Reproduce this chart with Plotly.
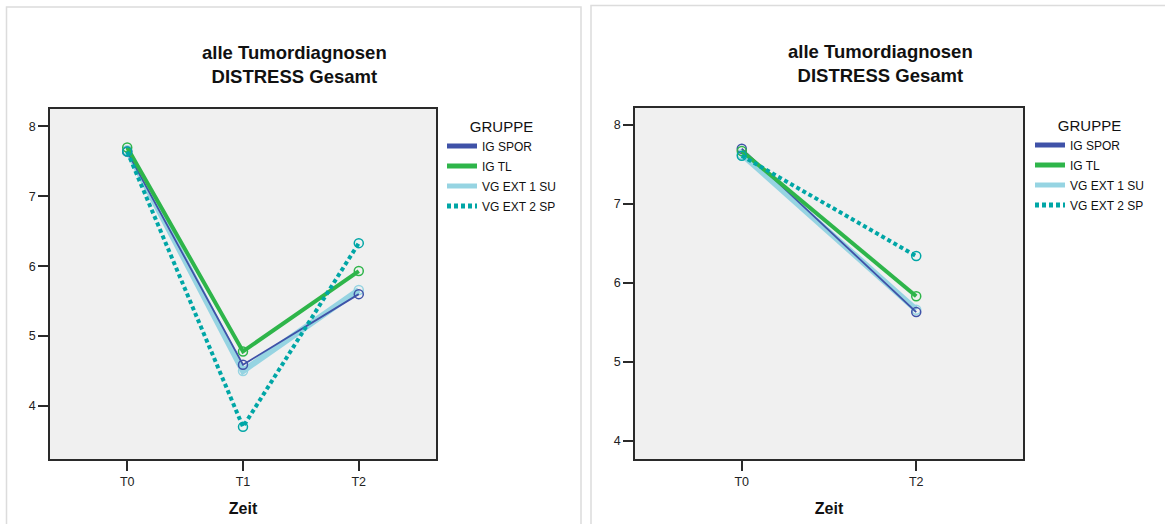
import plotly.graph_objects as go

W, H = 1165, 524

zeit_left = ["T0", "T1", "T2"]
zeit_right = ["T0", "T2"]
groups = ["IG SPOR", "IG TL", "VG EXT 1 SU", "VG EXT 2 SP"]

left_spor = [7.64, 4.59, 5.60]
left_tl = [7.70, 4.78, 5.93]
left_su = [7.66, 4.50, 5.66]
left_sp = [7.64, 3.70, 6.33]

right_spor = [7.70, 5.63]
right_tl = [7.67, 5.83]
right_su = [7.63, 5.66]
right_sp = [7.61, 6.34]

y_ticks = [4, 5, 6, 7, 8]

colors = {"IG SPOR": "#3f52a8", "IG TL": "#2eb54a", "VG EXT 1 SU": "#96d4e2", "VG EXT 2 SP": "#00a6a6"}
widths = {"IG SPOR": 1.8, "IG TL": 4, "VG EXT 1 SU": 6, "VG EXT 2 SP": 4}
dashes = {"IG SPOR": "solid", "IG TL": "solid", "VG EXT 1 SU": "solid", "VG EXT 2 SP": "4px,3px"}
draw_order = ["VG EXT 1 SU", "IG SPOR", "IG TL", "VG EXT 2 SP"]

left_data = {"IG SPOR": left_spor, "IG TL": left_tl, "VG EXT 1 SU": left_su, "VG EXT 2 SP": left_sp}
right_data = {"IG SPOR": right_spor, "IG TL": right_tl, "VG EXT 1 SU": right_su, "VG EXT 2 SP": right_sp}

FONT = "Liberation Sans, Arial, sans-serif"

fig = go.Figure()

for g in draw_order:
    fig.add_trace(go.Scatter(
        x=zeit_left, y=left_data[g], mode="lines+markers", xaxis="x", yaxis="y",
        line=dict(color=colors[g], width=widths[g], dash=dashes[g]),
        marker=dict(symbol="circle-open", size=9, color=colors[g], line=dict(width=1.5, color=colors[g])),
        showlegend=False, hoverinfo="skip"))
    fig.add_trace(go.Scatter(
        x=zeit_right, y=right_data[g], mode="lines+markers", xaxis="x2", yaxis="y2",
        line=dict(color=colors[g], width=widths[g], dash=dashes[g]),
        marker=dict(symbol="circle-open", size=9, color=colors[g], line=dict(width=1.5, color=colors[g])),
        showlegend=False, hoverinfo="skip"))

# legend entries
for leg in ["legend", "legend2"]:
    for i, g in enumerate(groups):
        fig.add_trace(go.Scatter(
            x=[None], y=[None], mode="lines", name=g, legend=leg,
            xaxis="x" if leg == "legend" else "x2", yaxis="y" if leg == "legend" else "y2",
            line=dict(color=colors[g], width=5, dash=dashes[g]),
            legendgroup=leg + g, showlegend=True))

axis_common = dict(
    showline=True, mirror=True, linecolor="#2a2a2a", linewidth=1.5,
    ticks="outside", ticklen=10, tickwidth=1.5, tickcolor="#2a2a2a",
    showgrid=False, zeroline=False,
    tickfont=dict(family=FONT, size=12.5, color="#222"),
)

def px_x(p):
    return p / W

def px_y(p):
    return 1 - p / H

fig.update_layout(
    width=W, height=H,
    margin=dict(l=0, r=0, t=0, b=0),
    paper_bgcolor="white",
    plot_bgcolor="#f0f0f0",
    font=dict(family=FONT, color="#111"),
    xaxis=dict(axis_common, type="category", domain=[px_x(50), px_x(436)], range=[-0.667, 2.667],
               anchor="y", title=dict(text="<b>Zeit</b>", font=dict(family=FONT, size=16, color="#111"), standoff=15)),
    yaxis=dict(axis_common, domain=[px_y(459), px_y(109)], range=[3.24, 8.25], tickvals=y_ticks,
               anchor="x"),
    xaxis2=dict(axis_common, type="category", domain=[px_x(635), px_x(1023)], range=[-0.612, 1.612],
                anchor="y2", title=dict(text="<b>Zeit</b>", font=dict(family=FONT, size=16, color="#111"), standoff=15)),
    yaxis2=dict(axis_common, domain=[px_y(459), px_y(108)], range=[3.77, 8.215], tickvals=y_ticks,
                anchor="x2"),
    legend=dict(x=px_x(442), y=px_y(112), xanchor="left", yanchor="top",
                bgcolor="rgba(0,0,0,0)", itemwidth=30, tracegroupgap=1,
                font=dict(family=FONT, size=12, color="#111"),
                title=dict(text="GRUPPE", side="top center", font=dict(family=FONT, size=15, color="#111"))),
    legend2=dict(x=px_x(1030), y=px_y(111), xanchor="left", yanchor="top",
                 bgcolor="rgba(0,0,0,0)", itemwidth=30, tracegroupgap=1,
                 font=dict(family=FONT, size=12, color="#111"),
                 title=dict(text="GRUPPE", side="top center", font=dict(family=FONT, size=15, color="#111"))),
    shapes=[
        dict(type="rect", xref="paper", yref="paper", x0=px_x(6.5), x1=px_x(581), y0=px_y(530), y1=px_y(7),
             line=dict(color="#dcdcdc", width=1.5), fillcolor="rgba(0,0,0,0)", layer="below"),
        dict(type="rect", xref="paper", yref="paper", x0=px_x(591), x1=px_x(1170), y0=px_y(530), y1=px_y(5.5),
             line=dict(color="#dcdcdc", width=1.5), fillcolor="rgba(0,0,0,0)", layer="below"),
    ],
    annotations=[
        dict(text="<b>alle Tumordiagnosen<br>DISTRESS Gesamt</b>", xref="paper", yref="paper",
             x=px_x(294), y=px_y(64.5), xanchor="center", yanchor="middle", showarrow=False,
             font=dict(family=FONT, size=18.5, color="#111")),
        dict(text="<b>alle Tumordiagnosen<br>DISTRESS Gesamt</b>", xref="paper", yref="paper",
             x=px_x(880), y=px_y(63.5), xanchor="center", yanchor="middle", showarrow=False,
             font=dict(family=FONT, size=18.5, color="#111")),
    ],
)

fig.write_html("out.html")
